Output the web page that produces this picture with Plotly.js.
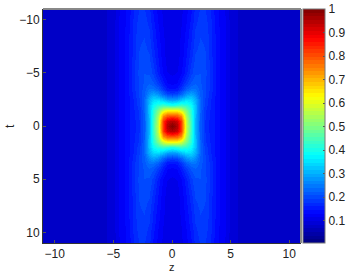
<!DOCTYPE html>
<html><head><meta charset="utf-8">
<script src="https://cdn.plot.ly/plotly-3.0.1.min.js"></script>
<style>html,body{margin:0;padding:0;background:#fff}#c{width:346px;height:274px}</style>
</head><body><div id="c"></div>
<script>
const zPos=[0,.4,.8,1.2,1.6,2,2.4,2.8,3.2,3.6,4,4.5,5,6,8,11];
const tPos=[0,.5,1,1.5,2,2.5,3,3.5,4,5,6,7,8,9,10,11];
const quadrant=[
[1.00,.95,.82,.58,.43,.31,.22,.175,.155,.145,.13,.115,.09,.078,.078,.078],
[.95,.92,.82,.57,.43,.31,.22,.175,.155,.145,.13,.115,.09,.078,.078,.078],
[.78,.77,.72,.54,.42,.32,.22,.18,.16,.145,.13,.115,.09,.078,.078,.078],
[.62,.62,.58,.50,.41,.32,.225,.18,.16,.145,.13,.115,.09,.078,.078,.078],
[.40,.42,.43,.42,.38,.32,.225,.185,.165,.145,.13,.115,.09,.078,.078,.078],
[.27,.28,.31,.34,.34,.30,.225,.19,.165,.145,.13,.115,.09,.078,.078,.078],
[.19,.20,.23,.27,.29,.265,.22,.195,.17,.15,.13,.115,.09,.078,.078,.078],
[.145,.15,.18,.22,.24,.24,.215,.195,.172,.15,.13,.115,.09,.078,.078,.078],
[.125,.13,.15,.185,.21,.22,.21,.195,.172,.15,.13,.115,.09,.078,.078,.078],
[.11,.115,.128,.155,.187,.205,.207,.197,.172,.15,.13,.115,.09,.078,.078,.078],
[.105,.108,.122,.147,.175,.198,.203,.195,.172,.15,.13,.115,.09,.078,.078,.078],
[.105,.108,.118,.142,.167,.19,.198,.192,.17,.15,.13,.115,.09,.078,.078,.078],
[.105,.106,.117,.137,.16,.183,.193,.189,.17,.15,.13,.115,.09,.078,.078,.078],
[.105,.106,.115,.132,.155,.177,.188,.186,.168,.148,.13,.115,.09,.078,.078,.078],
[.105,.105,.112,.128,.148,.17,.183,.182,.166,.146,.128,.115,.09,.078,.078,.078],
[.105,.105,.11,.124,.143,.165,.177,.176,.162,.144,.126,.112,.09,.078,.078,.078]
];
const zAxisTicks=[-10,-5,0,5,10];
const tAxisTicks=[-10,-5,0,5,10];
const barTicks=[.1,.2,.3,.4,.5,.6,.7,.8,.9,1];

const mirror=a=>a.slice(1).map(v=>-v).reverse().concat(a);
const mirrorRow=r=>r.slice(1).reverse().concat(r);
const x=mirror(zPos), y=mirror(tPos);
const rows=quadrant.map(mirrorRow);
const field=rows.slice(1).reverse().concat(rows);

function jet(v){
  const c=o=>Math.round(255*Math.max(0,Math.min(1,1.5-Math.abs(4*v-o))));
  return `rgb(${c(3)},${c(2)},${c(1)})`;
}
const N=64, scale=[];
for(let i=0;i<N;i++){
  const col=jet((i+.5)/N);
  scale.push([i/N,col]); scale.push([(i+1)/N,col]);
}
const font={family:'"Liberation Sans",Arial,sans-serif',size:12,color:'#222'};
const axis={ticks:'inside',ticklen:3,tickwidth:1,tickcolor:'#555',showline:true,linecolor:'#333',linewidth:1,
  mirror:false,zeroline:false,showgrid:false,tickfont:font};
Plotly.newPlot('c',[{type:'heatmap',x:x,y:y,z:field,zmin:.005,zmax:1,zsmooth:'best',colorscale:scale,
  colorbar:{x:1,xref:'paper',xanchor:'left',xpad:2,ypad:0,y:.5,len:1,thickness:22,tickvals:barTicks,ticktext:barTicks.map(String),
    ticks:'inside',ticklen:2,tickcolor:'#555',outlinecolor:'#777',outlinewidth:1,tickfont:font}}],
{width:346,height:274,margin:{l:43,r:45,t:9,b:31,autoexpand:false},paper_bgcolor:'#fff',plot_bgcolor:'#fff',font:font,
 xaxis:Object.assign({},axis,{range:[-11,11],tickvals:zAxisTicks}),
 yaxis:Object.assign({},axis,{range:[11,-11],tickvals:tAxisTicks}),
 annotations:[
  {text:'z',xref:'paper',yref:'paper',x:.5,y:0,xanchor:'center',yanchor:'top',yshift:-17,showarrow:false,font:Object.assign({},font,{size:11}),borderpad:0},
  {text:'t',xref:'paper',yref:'paper',x:0,y:.5,xanchor:'center',yanchor:'middle',xshift:-33,textangle:-90,showarrow:false,font:font}
 ],
 shapes:[
  {type:'line',xref:'paper',yref:'paper',x0:0,x1:1,y0:1,y1:1,line:{color:'#888',width:2}},
  {type:'line',xref:'paper',yref:'paper',x0:1,x1:1,y0:0,y1:1,line:{color:'#888',width:2}}
 ]},{displayModeBar:false,staticPlot:true});
</script></body></html>
